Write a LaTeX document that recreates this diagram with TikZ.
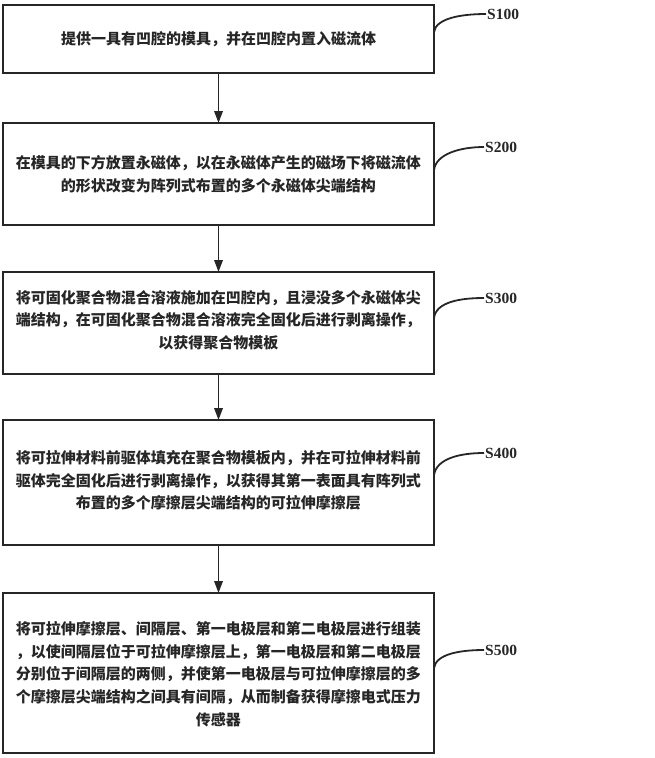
\documentclass[tikz,border=0pt]{standalone}
\usepackage{fontspec}
\setmainfont{Liberation Serif}
\newfontfamily\cjk{Noto Sans CJK SC}
\usetikzlibrary{arrows.meta,calc}
\tikzset{
  stepbox/.style={draw=black!85, line width=1.9pt, minimum width=431pt, inner sep=0pt, outer sep=0pt},
  steptext/.style={align=center, font=\cjk\bfseries\fontsize{15}{22.7}\selectfont, text=black!85},
  flow/.style={line width=1.9pt, draw=black!85, -{Triangle[length=12pt,width=8.5pt]}},
  tag/.style={font=\bfseries\fontsize{15.5}{18}\selectfont, anchor=west, inner sep=1pt, text=black!85},
  hook/.style={line width=1.8pt, draw=black!85}
}
\begin{document}
\begin{tikzpicture}[x=1pt,y=-1pt]
\useasboundingbox (0,0) rectangle (654,758);
\node[stepbox, minimum height=68pt] (b1) at (218.5,39) {};
\node[steptext] (t1) at (b1.center) {提供一具有凹腔的模具，并在凹腔内置入磁流体};
\node[stepbox, minimum height=102pt] (b2) at (218.5,174) {};
\node[steptext] (t2) at (b2.center) {在模具的下方放置永磁体，以在永磁体产生的磁场下将磁流体\\的形状改变为阵列式布置的多个永磁体尖端结构};
\node[stepbox, minimum height=102pt] (b3) at (218.5,323) {};
\node[steptext] (t3) at ($(b3.center)+(0,-3)$) {将可固化聚合物混合溶液施加在凹腔内，且浸没多个永磁体尖\\端结构，在可固化聚合物混合溶液完全固化后进行剥离操作，\\以获得聚合物模板};
\node[stepbox, minimum height=125pt] (b4) at (218.5,482.5) {};
\node[steptext] (t4) at ($(b4.center)+(0,-2)$) {将可拉伸材料前驱体填充在聚合物模板内，并在可拉伸材料前\\驱体完全固化后进行剥离操作，以获得其第一表面具有阵列式\\布置的多个摩擦层尖端结构的可拉伸摩擦层};
\node[stepbox, minimum height=160pt] (b5) at (218.5,673) {};
\node[steptext] (t5) at ($(b5.center)+(0,1)$) {将可拉伸摩擦层、间隔层、第一电极层和第二电极层进行组装\\，以使间隔层位于可拉伸摩擦层上，第一电极层和第二电极层\\分别位于间隔层的两侧，并使第一电极层与可拉伸摩擦层的多\\个摩擦层尖端结构之间具有间隔，从而制备获得摩擦电式压力\\传感器};
\draw[flow] (b1.south) -- (b2.north);
\draw[flow] (b2.south) -- (b3.north);
\draw[flow] (b3.south) -- (b4.north);
\draw[flow] (b4.south) -- (b5.north);
\node[tag] (s1) at (486,14) {S100};
\node[tag] (s2) at (484,147) {S200};
\node[tag] (s3) at (484,298) {S300};
\node[tag] (s4) at (484,453) {S400};
\node[tag] (s5) at (484,650) {S500};
\draw[hook] ($(b1.east)+(0,-7)$) .. controls +(2,-14) and +(-24,0) .. (s1.west);
\draw[hook] ($(b2.east)+(0,-4)$) .. controls +(2,-16) and +(-24,0) .. (s2.west);
\draw[hook] ($(b3.east)+(0,-5)$) .. controls +(2,-16) and +(-24,0) .. (s3.west);
\draw[hook] ($(b4.east)+(0,-7)$) .. controls +(2,-17) and +(-24,0) .. (s4.west);
\draw[hook] ($(b5.east)+(0,-5)$) .. controls +(2,-14) and +(-24,0) .. (s5.west);
\end{tikzpicture}
\end{document}
